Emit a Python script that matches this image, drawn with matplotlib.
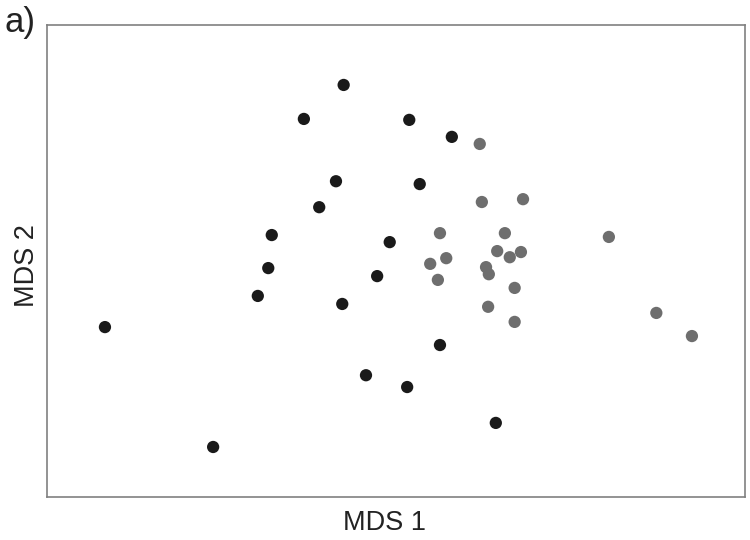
import matplotlib
matplotlib.use("Agg")
import matplotlib.pyplot as plt
import numpy as np

plt.rcParams["font.family"] = ["Liberation Sans", "DejaVu Sans"]

# MDS coordinates (arbitrary units, 0-100 on both axes)
group1_x = [42.5, 36.8, 51.9, 58.0, 41.4, 53.4, 39.0, 32.2, 49.1, 31.7, 47.3, 30.2, 42.3, 8.3, 56.3, 45.7, 51.6, 64.3, 23.8]
group1_y = [87.3, 80.1, 79.9, 76.3, 66.9, 66.3, 61.4, 55.5, 54.0, 48.5, 46.8, 42.6, 40.9, 36.0, 32.2, 25.8, 23.3, 15.7, 10.6]

group2_x = [62.0, 62.3, 68.2, 56.3, 65.6, 80.5, 64.5, 67.9, 57.2, 66.3, 54.9, 62.9, 63.3, 56.0, 67.0, 63.2, 67.0, 87.3, 92.4]
group2_y = [74.8, 62.5, 63.1, 55.9, 55.9, 55.1, 52.1, 51.9, 50.6, 50.8, 49.4, 48.7, 47.2, 46.0, 44.3, 40.3, 37.1, 39.0, 34.1]

fig = plt.figure(figsize=(7.5, 5.4), dpi=100)
ax = fig.add_axes([0.0627, 0.0796, 0.9306, 0.8741])

ax.scatter(group1_x, group1_y, s=78, color="#1a1a1a", edgecolors="none", zorder=3)
ax.scatter(group2_x, group2_y, s=78, color="#6e6e6e", edgecolors="none", zorder=3)

ax.set_xlim(0, 100)
ax.set_ylim(0, 100)
ax.set_xticks([])
ax.set_yticks([])
for spine in ax.spines.values():
    spine.set_color("#808080")
    spine.set_linewidth(1.2)

ax.set_xlabel("MDS 1", fontsize=19.5, color="#222222")
ax.xaxis.set_label_coords(0.484, -0.028, transform=ax.transAxes)
ax.xaxis.label.set_va("top")
ax.set_ylabel("MDS 2", fontsize=19.5, color="#222222")
ax.yaxis.set_label_coords(-0.010, 0.49, transform=ax.transAxes)
ax.yaxis.label.set_va("bottom")
fig.text(0.006, 0.94, "a)", fontsize=25, color="#222222", va="baseline", ha="left")

fig.savefig("out.png", dpi=100)
